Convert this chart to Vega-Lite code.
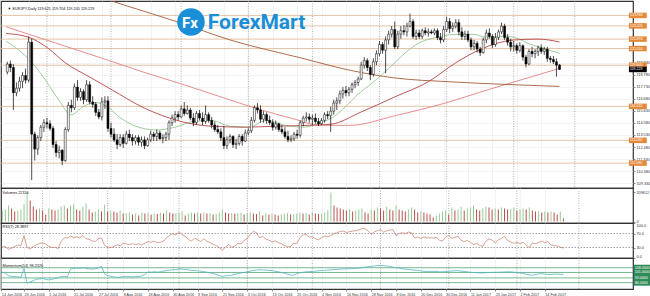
{
"$schema": "https://vega.github.io/schema/vega-lite/v6.json",
"padding": 0,
"background": "white",
"spacing": 0,
"bounds": "flush",
"config": {"view": {"stroke": "#333", "strokeWidth": 1.2, "fill": "white"}, "axis": {"labelFont": "Liberation Sans", "labelColor": "#333", "tickColor": "#444", "tickWidth": 0.6, "gridColor": "#ebebeb", "gridWidth": 0.6, "domain": false, "labelOverlap": false}, "text": {"font": "Liberation Sans"}},
"datasets": {
"mon": [{"i":6},{"i":27},{"i":50},{"i":72},{"i":93},{"i":115},{"i":137},{"i":159},{"i":179}],
"lv": [{"p":123.93},{"p":123.02},{"p":121.87},{"p":121.05},{"p":119.60},{"p":116.02},{"p":113.06},{"p":111.08}],
"mlv": [{"m":108},{"m":101},{"m":93},{"m":86}],
"ma": [
{"n":"MA20","i":-7.4,"p":121.70},{"n":"MA20","i":0.6,"p":119.97},{"n":"MA20","i":4.8,"p":118.57},{"n":"MA20","i":10,"p":116.52},{"n":"MA20","i":13.9,"p":115.28},{"n":"MA20","i":18,"p":116.02},{"n":"MA20","i":22,"p":116.35},{"n":"MA20","i":26,"p":115.94},{"n":"MA20","i":30,"p":115.03},{"n":"MA20","i":36,"p":114.21},{"n":"MA20","i":42,"p":113.96},{"n":"MA20","i":48,"p":114.21},{"n":"MA20","i":54,"p":114.70},{"n":"MA20","i":60,"p":114.79},{"n":"MA20","i":66,"p":114.29},{"n":"MA20","i":72,"p":114.21},{"n":"MA20","i":78,"p":114.79},{"n":"MA20","i":84,"p":114.37},{"n":"MA20","i":90,"p":114.21},{"n":"MA20","i":96,"p":114.62},{"n":"MA20","i":100,"p":115.11},{"n":"MA20","i":104,"p":116.02},{"n":"MA20","i":108,"p":117.09},{"n":"MA20","i":112,"p":117.92},{"n":"MA20","i":116,"p":118.82},{"n":"MA20","i":120,"p":119.81},{"n":"MA20","i":124,"p":120.80},{"n":"MA20","i":128,"p":121.54},{"n":"MA20","i":134,"p":122.03},{"n":"MA20","i":140,"p":122.28},{"n":"MA20","i":146,"p":122.28},{"n":"MA20","i":150,"p":122.03},{"n":"MA20","i":156,"p":122.12},{"n":"MA20","i":160,"p":121.95},{"n":"MA20","i":164,"p":121.46},{"n":"MA20","i":168,"p":121.13},{"n":"MA20","i":174,"p":120.63},
{"n":"MA50","i":-7.4,"p":122.36},{"n":"MA50","i":0,"p":122.03},{"n":"MA50","i":6.5,"p":121.05},{"n":"MA50","i":12,"p":119.81},{"n":"MA50","i":20,"p":118.57},{"n":"MA50","i":27,"p":117.50},{"n":"MA50","i":38,"p":115.86},{"n":"MA50","i":50,"p":114.70},{"n":"MA50","i":60,"p":114.29},{"n":"MA50","i":71,"p":114.21},{"n":"MA50","i":81,"p":114.29},{"n":"MA50","i":92,"p":114.37},{"n":"MA50","i":99,"p":114.46},{"n":"MA50","i":109,"p":115.53},{"n":"MA50","i":120,"p":116.84},{"n":"MA50","i":131,"p":118.16},{"n":"MA50","i":140,"p":119.81},{"n":"MA50","i":148,"p":120.96},{"n":"MA50","i":159,"p":121.79},{"n":"MA50","i":167,"p":121.87},{"n":"MA50","i":174,"p":121.62},
{"n":"MA100","i":-7.4,"p":122.94},{"n":"MA100","i":8.7,"p":121.54},{"n":"MA100","i":23.9,"p":120.22},{"n":"MA100","i":37.7,"p":118.99},{"n":"MA100","i":49.7,"p":118.00},{"n":"MA100","i":63.9,"p":116.76},{"n":"MA100","i":76.5,"p":115.69},{"n":"MA100","i":87.7,"p":114.87},{"n":"MA100","i":95.2,"p":114.37},{"n":"MA100","i":105.5,"p":114.37},{"n":"MA100","i":120,"p":115.20},{"n":"MA100","i":136.1,"p":116.27},{"n":"MA100","i":151,"p":117.50},{"n":"MA100","i":163.5,"p":118.49},{"n":"MA100","i":174,"p":119.32},
{"n":"MA200","i":20,"p":125.82},{"n":"MA200","i":32.3,"p":124.75},{"n":"MA200","i":49,"p":123.35},{"n":"MA200","i":66.1,"p":121.79},{"n":"MA200","i":89.4,"p":120.22},{"n":"MA200","i":105.5,"p":119.15},{"n":"MA200","i":120,"p":118.49},{"n":"MA200","i":137.7,"p":118.16},{"n":"MA200","i":157.1,"p":117.92},{"n":"MA200","i":174,"p":117.75}
],
"bars": [
{"i":-7,"o":119.0,"h":119.9,"l":118.8,"c":119.7,"v":78166,"vd":"u","r":31,"m":101.5},
{"i":-6,"o":119.7,"h":120.0,"l":119.0,"c":119.4,"v":85272,"vd":"u","r":33,"m":100},
{"i":-5,"o":119.4,"h":119.7,"l":115.7,"c":117.2,"v":113696,"vd":"u","r":25,"m":96},
{"i":-4,"o":117.2,"h":118.1,"l":116.9,"c":117.6,"v":92378,"vd":"d","r":28,"m":95.3},
{"i":-3,"o":117.6,"h":118.6,"l":117.3,"c":118.2,"v":71060,"vd":"d","r":33,"m":95},
{"i":-2,"o":118.2,"h":119.0,"l":117.6,"c":118.7,"v":78166,"vd":"u","r":37,"m":94.5},
{"i":-1,"o":118.7,"h":119.3,"l":118.0,"c":118.3,"v":85272,"vd":"u","r":35,"m":94},
{"i":0,"o":118.3,"h":122.1,"l":118.1,"c":121.6,"v":120802,"vd":"u","r":64,"m":107},
{"i":1,"o":121.6,"h":121.9,"l":109.6,"c":113.6,"v":209612,"vd":"u","r":30,"m":85.3},
{"i":2,"o":113.6,"h":113.8,"l":111.3,"c":112.3,"v":149226,"vd":"d","r":26,"m":87},
{"i":3,"o":112.3,"h":113.5,"l":111.8,"c":113.3,"v":106590,"vd":"d","r":33,"m":89},
{"i":4,"o":113.3,"h":114.4,"l":113.0,"c":114.2,"v":85272,"vd":"d","r":38,"m":91},
{"i":5,"o":114.2,"h":114.9,"l":113.8,"c":114.6,"v":92378,"vd":"u","r":42,"m":91.5},
{"i":6,"o":114.6,"h":115.0,"l":114.1,"c":114.5,"v":78166,"vd":"d","r":43,"m":92},
{"i":7,"o":114.5,"h":114.8,"l":113.9,"c":114.1,"v":49742,"vd":"d","r":40,"m":91},
{"i":8,"o":114.1,"h":114.3,"l":112.4,"c":112.7,"v":92378,"vd":"u","r":33,"m":90},
{"i":9,"o":112.7,"h":113.0,"l":111.6,"c":112.0,"v":85272,"vd":"d","r":30,"m":91},
{"i":10,"o":112.0,"h":112.6,"l":111.5,"c":112.2,"v":78166,"vd":"d","r":31,"m":92},
{"i":11,"o":112.2,"h":112.3,"l":110.9,"c":111.3,"v":85272,"vd":"u","r":27,"m":93},
{"i":12,"o":111.3,"h":114.2,"l":111.2,"c":114.0,"v":106590,"vd":"u","r":48,"m":95},
{"i":13,"o":114.0,"h":116.4,"l":113.8,"c":116.1,"v":113696,"vd":"u","r":58,"m":95.5},
{"i":14,"o":116.1,"h":116.6,"l":115.5,"c":115.9,"v":92378,"vd":"d","r":57,"m":94.5},
{"i":15,"o":115.9,"h":118.0,"l":115.7,"c":117.7,"v":113696,"vd":"u","r":63,"m":106},
{"i":16,"o":117.7,"h":118.3,"l":116.5,"c":116.8,"v":120802,"vd":"u","r":58,"m":107},
{"i":17,"o":116.8,"h":117.6,"l":116.5,"c":117.3,"v":85272,"vd":"d","r":61,"m":107.5},
{"i":18,"o":117.3,"h":117.5,"l":116.2,"c":116.6,"v":78166,"vd":"d","r":57,"m":107},
{"i":19,"o":116.6,"h":118.3,"l":116.4,"c":117.9,"v":106590,"vd":"u","r":64,"m":108},
{"i":20,"o":117.9,"h":118.2,"l":116.2,"c":116.4,"v":127908,"vd":"u","r":55,"m":107},
{"i":21,"o":116.4,"h":116.9,"l":115.9,"c":116.2,"v":85272,"vd":"d","r":53,"m":106.5},
{"i":22,"o":116.2,"h":116.4,"l":115.2,"c":115.5,"v":63954,"vd":"d","r":49,"m":106},
{"i":23,"o":115.5,"h":115.8,"l":114.9,"c":115.1,"v":71060,"vd":"u","r":47,"m":106.5},
{"i":24,"o":115.1,"h":116.8,"l":114.8,"c":116.4,"v":85272,"vd":"u","r":56,"m":108},
{"i":25,"o":116.4,"h":116.9,"l":115.8,"c":116.5,"v":71060,"vd":"d","r":57,"m":110},
{"i":26,"o":116.5,"h":116.9,"l":113.8,"c":114.1,"v":120802,"vd":"u","r":36,"m":99},
{"i":27,"o":114.1,"h":114.6,"l":113.3,"c":113.6,"v":71060,"vd":"d","r":31,"m":96.5},
{"i":28,"o":113.6,"h":114.1,"l":112.9,"c":113.1,"v":78166,"vd":"u","r":30,"m":95.3},
{"i":29,"o":113.1,"h":113.6,"l":112.3,"c":112.7,"v":71060,"vd":"d","r":33,"m":94.5},
{"i":30,"o":112.7,"h":113.6,"l":112.5,"c":113.3,"v":63954,"vd":"d","r":38,"m":94},
{"i":31,"o":113.3,"h":113.6,"l":112.4,"c":112.8,"v":78166,"vd":"u","r":35,"m":94},
{"i":32,"o":112.8,"h":113.9,"l":112.7,"c":113.6,"v":56848,"vd":"d","r":42,"m":95},
{"i":33,"o":113.6,"h":114.0,"l":113.0,"c":113.3,"v":60401,"vd":"u","r":40,"m":95.3},
{"i":34,"o":113.3,"h":113.6,"l":112.6,"c":113.0,"v":63954,"vd":"u","r":38,"m":95},
{"i":35,"o":113.0,"h":113.5,"l":112.7,"c":113.3,"v":49742,"vd":"d","r":41,"m":94.5},
{"i":36,"o":113.3,"h":113.5,"l":112.6,"c":112.9,"v":56848,"vd":"u","r":38,"m":95},
{"i":37,"o":112.9,"h":113.4,"l":112.5,"c":113.1,"v":42636,"vd":"d","r":41,"m":95},
{"i":38,"o":113.1,"h":113.4,"l":112.3,"c":112.6,"v":63954,"vd":"u","r":37,"m":96},
{"i":39,"o":112.6,"h":113.3,"l":112.5,"c":113.1,"v":56848,"vd":"d","r":42,"m":98},
{"i":40,"o":113.1,"h":113.9,"l":112.9,"c":113.6,"v":63954,"vd":"u","r":47,"m":102},
{"i":41,"o":113.6,"h":113.8,"l":113.0,"c":113.4,"v":49742,"vd":"d","r":45,"m":101.5},
{"i":42,"o":113.4,"h":114.0,"l":113.0,"c":113.7,"v":56848,"vd":"u","r":48,"m":102},
{"i":43,"o":113.7,"h":113.9,"l":113.1,"c":113.2,"v":53295,"vd":"d","r":44,"m":101.5},
{"i":44,"o":113.2,"h":113.6,"l":112.8,"c":113.3,"v":63954,"vd":"u","r":45,"m":102},
{"i":45,"o":113.3,"h":113.8,"l":113.0,"c":113.6,"v":56848,"vd":"d","r":48,"m":103},
{"i":46,"o":113.6,"h":114.8,"l":113.1,"c":114.6,"v":78166,"vd":"u","r":58,"m":104},
{"i":47,"o":114.6,"h":115.3,"l":114.3,"c":115.0,"v":63954,"vd":"d","r":65,"m":104.5},
{"i":48,"o":115.0,"h":115.6,"l":114.6,"c":115.3,"v":56848,"vd":"d","r":69,"m":105},
{"i":49,"o":115.3,"h":115.6,"l":114.8,"c":115.1,"v":60401,"vd":"u","r":66,"m":105},
{"i":50,"o":115.1,"h":116.1,"l":115.0,"c":115.8,"v":63954,"vd":"u","r":75,"m":106},
{"i":51,"o":115.8,"h":116.4,"l":115.2,"c":115.4,"v":71060,"vd":"u","r":66,"m":106},
{"i":52,"o":115.4,"h":116.1,"l":115.3,"c":115.7,"v":42636,"vd":"d","r":62,"m":105.5},
{"i":53,"o":115.7,"h":115.9,"l":114.8,"c":115.0,"v":56848,"vd":"u","r":53,"m":105},
{"i":54,"o":115.0,"h":115.4,"l":114.3,"c":114.6,"v":63954,"vd":"u","r":48,"m":104},
{"i":55,"o":114.6,"h":115.6,"l":114.4,"c":115.4,"v":56848,"vd":"d","r":57,"m":104},
{"i":56,"o":115.4,"h":115.7,"l":114.8,"c":115.0,"v":63954,"vd":"u","r":52,"m":103.5},
{"i":57,"o":115.0,"h":115.5,"l":114.4,"c":114.7,"v":56848,"vd":"d","r":47,"m":103},
{"i":58,"o":114.7,"h":116.1,"l":114.5,"c":115.3,"v":63954,"vd":"u","r":55,"m":102},
{"i":59,"o":115.3,"h":115.5,"l":114.6,"c":114.8,"v":56848,"vd":"d","r":48,"m":101.5},
{"i":60,"o":114.8,"h":115.1,"l":114.1,"c":114.4,"v":60401,"vd":"u","r":44,"m":100.5},
{"i":61,"o":114.4,"h":114.7,"l":113.8,"c":114.0,"v":49742,"vd":"d","r":40,"m":99.5},
{"i":62,"o":114.0,"h":114.4,"l":113.6,"c":113.8,"v":53295,"vd":"u","r":36,"m":98},
{"i":63,"o":113.8,"h":114.1,"l":113.0,"c":113.3,"v":63954,"vd":"u","r":30,"m":96.5},
{"i":64,"o":113.3,"h":114.3,"l":112.3,"c":112.6,"v":85272,"vd":"u","r":22,"m":95.3},
{"i":65,"o":112.6,"h":113.4,"l":112.3,"c":113.1,"v":63954,"vd":"d","r":32,"m":96},
{"i":66,"o":113.1,"h":113.6,"l":112.8,"c":113.4,"v":56848,"vd":"d","r":38,"m":96.5},
{"i":67,"o":113.4,"h":113.5,"l":112.4,"c":112.7,"v":60401,"vd":"u","r":31,"m":97},
{"i":68,"o":112.7,"h":113.2,"l":112.3,"c":112.8,"v":56848,"vd":"d","r":34,"m":98},
{"i":69,"o":112.8,"h":113.6,"l":112.6,"c":113.4,"v":60401,"vd":"u","r":42,"m":99.5},
{"i":70,"o":113.4,"h":113.6,"l":112.6,"c":113.0,"v":63954,"vd":"u","r":40,"m":100.3},
{"i":71,"o":113.0,"h":114.0,"l":112.9,"c":113.7,"v":49742,"vd":"d","r":50,"m":101},
{"i":72,"o":113.7,"h":114.1,"l":113.5,"c":113.9,"v":56848,"vd":"u","r":55,"m":102},
{"i":73,"o":113.9,"h":115.1,"l":113.7,"c":114.8,"v":63954,"vd":"u","r":68,"m":103},
{"i":74,"o":114.8,"h":116.1,"l":114.6,"c":115.9,"v":56848,"vd":"d","r":76,"m":104},
{"i":75,"o":115.9,"h":116.3,"l":115.4,"c":115.7,"v":53295,"vd":"d","r":72,"m":104.5},
{"i":76,"o":115.7,"h":116.1,"l":114.6,"c":114.9,"v":71060,"vd":"u","r":58,"m":105},
{"i":77,"o":114.9,"h":115.6,"l":114.6,"c":115.3,"v":42636,"vd":"d","r":62,"m":104.7},
{"i":78,"o":115.3,"h":115.5,"l":114.5,"c":114.8,"v":56848,"vd":"u","r":54,"m":104.5},
{"i":79,"o":114.8,"h":115.2,"l":114.4,"c":114.6,"v":49742,"vd":"d","r":51,"m":104},
{"i":80,"o":114.6,"h":114.9,"l":113.9,"c":114.2,"v":56848,"vd":"u","r":46,"m":103.7},
{"i":81,"o":114.2,"h":114.8,"l":114.0,"c":114.5,"v":49742,"vd":"d","r":49,"m":103},
{"i":82,"o":114.5,"h":114.6,"l":113.8,"c":114.0,"v":42636,"vd":"d","r":44,"m":102},
{"i":83,"o":114.0,"h":114.4,"l":113.6,"c":113.8,"v":49742,"vd":"u","r":41,"m":101},
{"i":84,"o":113.8,"h":114.2,"l":113.2,"c":113.4,"v":56848,"vd":"u","r":36,"m":100},
{"i":85,"o":113.4,"h":113.9,"l":112.9,"c":113.1,"v":60401,"vd":"u","r":32,"m":98.5},
{"i":86,"o":113.1,"h":113.5,"l":112.9,"c":113.2,"v":49742,"vd":"d","r":33,"m":97.5},
{"i":87,"o":113.2,"h":113.8,"l":113.0,"c":113.6,"v":53295,"vd":"u","r":42,"m":97},
{"i":88,"o":113.6,"h":114.0,"l":113.2,"c":113.5,"v":56848,"vd":"u","r":41,"m":99},
{"i":89,"o":113.5,"h":114.8,"l":113.3,"c":114.6,"v":63954,"vd":"u","r":58,"m":100.5},
{"i":90,"o":114.6,"h":115.2,"l":114.3,"c":115.0,"v":56848,"vd":"d","r":66,"m":101.3},
{"i":91,"o":115.0,"h":115.5,"l":114.7,"c":115.1,"v":60401,"vd":"u","r":67,"m":102},
{"i":92,"o":115.1,"h":115.4,"l":114.6,"c":114.9,"v":49742,"vd":"d","r":60,"m":102.2},
{"i":93,"o":114.9,"h":115.3,"l":114.4,"c":115.0,"v":63954,"vd":"u","r":61,"m":102.5},
{"i":94,"o":115.0,"h":115.4,"l":114.5,"c":114.7,"v":56848,"vd":"d","r":55,"m":103},
{"i":95,"o":114.7,"h":115.0,"l":114.3,"c":114.5,"v":53295,"vd":"d","r":52,"m":103.5},
{"i":96,"o":114.5,"h":115.0,"l":114.4,"c":114.8,"v":56848,"vd":"u","r":58,"m":104},
{"i":97,"o":114.8,"h":115.5,"l":114.6,"c":115.3,"v":63954,"vd":"u","r":63,"m":104},
{"i":98,"o":115.3,"h":115.6,"l":114.9,"c":115.2,"v":78166,"vd":"u","r":61,"m":104.5},
{"i":99,"o":115.2,"h":116.0,"l":113.8,"c":115.6,"v":206074,"vd":"u","r":64,"m":105},
{"i":100,"o":115.6,"h":116.6,"l":115.3,"c":116.3,"v":113696,"vd":"d","r":70,"m":105.2},
{"i":101,"o":116.3,"h":116.8,"l":115.7,"c":116.5,"v":99484,"vd":"d","r":72,"m":105.5},
{"i":102,"o":116.5,"h":117.4,"l":116.2,"c":117.1,"v":92378,"vd":"d","r":76,"m":106},
{"i":103,"o":117.1,"h":117.7,"l":116.7,"c":117.4,"v":85272,"vd":"d","r":77,"m":106.2},
{"i":104,"o":117.4,"h":117.8,"l":116.9,"c":117.2,"v":78166,"vd":"d","r":73,"m":106.3},
{"i":105,"o":117.2,"h":117.7,"l":116.9,"c":117.5,"v":85272,"vd":"u","r":75,"m":106.5},
{"i":106,"o":117.5,"h":118.1,"l":117.2,"c":117.9,"v":71060,"vd":"d","r":77,"m":106.8},
{"i":107,"o":117.9,"h":118.3,"l":117.6,"c":118.1,"v":78166,"vd":"u","r":78,"m":107},
{"i":108,"o":118.1,"h":118.6,"l":117.8,"c":118.4,"v":85272,"vd":"u","r":80,"m":107.5},
{"i":109,"o":118.4,"h":119.9,"l":118.3,"c":119.6,"v":92378,"vd":"u","r":84,"m":108},
{"i":110,"o":119.6,"h":120.3,"l":119.3,"c":120.0,"v":63954,"vd":"d","r":84,"m":109},
{"i":111,"o":120.0,"h":120.2,"l":119.1,"c":119.4,"v":56848,"vd":"d","r":77,"m":109.5},
{"i":112,"o":119.4,"h":119.6,"l":118.3,"c":118.8,"v":85272,"vd":"u","r":68,"m":110},
{"i":113,"o":118.8,"h":120.2,"l":118.6,"c":119.9,"v":78166,"vd":"d","r":75,"m":110.5},
{"i":114,"o":119.9,"h":120.9,"l":119.6,"c":120.6,"v":99484,"vd":"u","r":78,"m":111.3},
{"i":115,"o":120.6,"h":121.7,"l":120.4,"c":121.4,"v":92378,"vd":"d","r":81,"m":111.5},
{"i":116,"o":121.4,"h":121.6,"l":120.6,"c":120.9,"v":78166,"vd":"d","r":74,"m":111},
{"i":117,"o":120.9,"h":122.1,"l":118.9,"c":121.8,"v":106590,"vd":"u","r":78,"m":110.5},
{"i":118,"o":121.8,"h":122.6,"l":121.4,"c":122.3,"v":85272,"vd":"d","r":80,"m":110},
{"i":119,"o":122.3,"h":123.0,"l":122.0,"c":122.7,"v":78166,"vd":"d","r":81,"m":109},
{"i":120,"o":122.7,"h":123.4,"l":121.0,"c":121.2,"v":113696,"vd":"u","r":64,"m":108},
{"i":121,"o":121.2,"h":122.6,"l":121.0,"c":122.3,"v":85272,"vd":"d","r":70,"m":107.5},
{"i":122,"o":122.3,"h":123.0,"l":121.9,"c":122.6,"v":78166,"vd":"d","r":72,"m":106.5},
{"i":123,"o":122.6,"h":123.1,"l":122.2,"c":122.5,"v":71060,"vd":"d","r":70,"m":106},
{"i":124,"o":122.5,"h":123.3,"l":122.1,"c":123.0,"v":85272,"vd":"u","r":74,"m":105.5},
{"i":125,"o":123.0,"h":124.1,"l":122.9,"c":123.4,"v":99484,"vd":"u","r":72,"m":105},
{"i":126,"o":123.4,"h":123.6,"l":121.9,"c":122.1,"v":85272,"vd":"d","r":57,"m":104.5},
{"i":127,"o":122.1,"h":122.7,"l":121.8,"c":122.4,"v":63954,"vd":"d","r":60,"m":104},
{"i":128,"o":122.4,"h":122.7,"l":121.9,"c":122.1,"v":71060,"vd":"u","r":56,"m":103.5},
{"i":129,"o":122.1,"h":122.8,"l":121.9,"c":122.6,"v":63954,"vd":"d","r":60,"m":102.7},
{"i":130,"o":122.6,"h":122.9,"l":122.2,"c":122.4,"v":56848,"vd":"d","r":57,"m":102.7},
{"i":131,"o":122.4,"h":122.8,"l":122.1,"c":122.5,"v":49742,"vd":"d","r":58,"m":102.7},
{"i":132,"o":122.5,"h":122.7,"l":122.3,"c":122.4,"v":28424,"vd":"d","r":57,"m":102.5},
{"i":133,"o":122.4,"h":122.8,"l":122.2,"c":122.6,"v":42636,"vd":"u","r":59,"m":102.7},
{"i":134,"o":122.6,"h":122.8,"l":121.8,"c":122.0,"v":56848,"vd":"u","r":51,"m":102},
{"i":135,"o":122.0,"h":122.4,"l":121.5,"c":121.8,"v":71060,"vd":"u","r":48,"m":102},
{"i":136,"o":121.8,"h":123.0,"l":121.6,"c":122.7,"v":78166,"vd":"u","r":60,"m":102.5},
{"i":137,"o":122.7,"h":123.8,"l":122.5,"c":123.4,"v":49742,"vd":"d","r":65,"m":103},
{"i":138,"o":123.4,"h":123.7,"l":122.4,"c":122.8,"v":99484,"vd":"u","r":56,"m":103.2},
{"i":139,"o":122.8,"h":123.3,"l":122.5,"c":123.0,"v":78166,"vd":"d","r":59,"m":103.5},
{"i":140,"o":123.0,"h":123.6,"l":122.8,"c":123.3,"v":85272,"vd":"u","r":62,"m":103.7},
{"i":141,"o":123.3,"h":123.6,"l":122.2,"c":122.5,"v":106590,"vd":"u","r":50,"m":103},
{"i":142,"o":122.5,"h":122.9,"l":121.8,"c":122.1,"v":78166,"vd":"d","r":47,"m":102.5},
{"i":143,"o":122.1,"h":122.6,"l":121.8,"c":122.3,"v":92378,"vd":"u","r":50,"m":102},
{"i":144,"o":122.3,"h":122.6,"l":121.6,"c":121.8,"v":99484,"vd":"u","r":45,"m":101.3},
{"i":145,"o":121.8,"h":122.0,"l":120.9,"c":121.2,"v":113696,"vd":"u","r":38,"m":101},
{"i":146,"o":121.2,"h":121.8,"l":120.9,"c":121.5,"v":85272,"vd":"d","r":42,"m":100.7},
{"i":147,"o":121.5,"h":121.7,"l":120.7,"c":121.0,"v":78166,"vd":"d","r":36,"m":100.5},
{"i":148,"o":121.0,"h":121.2,"l":120.4,"c":120.7,"v":92378,"vd":"u","r":33,"m":100.3},
{"i":149,"o":120.7,"h":122.0,"l":120.6,"c":121.8,"v":106590,"vd":"u","r":48,"m":100.7},
{"i":150,"o":121.8,"h":122.7,"l":121.5,"c":122.4,"v":99484,"vd":"d","r":55,"m":101},
{"i":151,"o":122.4,"h":122.8,"l":121.9,"c":122.1,"v":85272,"vd":"d","r":51,"m":101.2},
{"i":152,"o":122.1,"h":122.3,"l":121.1,"c":121.4,"v":92378,"vd":"u","r":44,"m":101.3},
{"i":153,"o":121.4,"h":122.4,"l":121.2,"c":122.0,"v":85272,"vd":"d","r":52,"m":101.3},
{"i":154,"o":122.0,"h":122.7,"l":121.8,"c":122.5,"v":99484,"vd":"u","r":56,"m":101.5},
{"i":155,"o":122.5,"h":123.3,"l":122.3,"c":123.0,"v":92378,"vd":"d","r":62,"m":101.8},
{"i":156,"o":123.0,"h":123.2,"l":121.8,"c":122.0,"v":85272,"vd":"d","r":50,"m":102},
{"i":157,"o":122.0,"h":122.3,"l":121.3,"c":121.6,"v":88825,"vd":"u","r":46,"m":102},
{"i":158,"o":121.6,"h":121.9,"l":120.8,"c":121.2,"v":99484,"vd":"u","r":42,"m":101.5},
{"i":159,"o":121.2,"h":121.7,"l":120.8,"c":121.3,"v":78166,"vd":"d","r":45,"m":101},
{"i":160,"o":121.3,"h":121.5,"l":120.6,"c":120.9,"v":85272,"vd":"u","r":41,"m":100.3},
{"i":161,"o":120.9,"h":121.6,"l":120.7,"c":121.3,"v":92378,"vd":"u","r":45,"m":99.5},
{"i":162,"o":121.3,"h":121.4,"l":120.0,"c":120.3,"v":85272,"vd":"d","r":36,"m":98.5},
{"i":163,"o":120.3,"h":120.5,"l":119.4,"c":119.7,"v":99484,"vd":"u","r":30,"m":97.5},
{"i":164,"o":119.7,"h":121.0,"l":119.6,"c":120.8,"v":78166,"vd":"d","r":43,"m":97},
{"i":165,"o":120.8,"h":121.2,"l":120.3,"c":120.6,"v":71060,"vd":"d","r":41,"m":98},
{"i":166,"o":120.6,"h":121.0,"l":120.2,"c":120.8,"v":74613,"vd":"u","r":44,"m":99},
{"i":167,"o":120.8,"h":121.3,"l":120.4,"c":121.1,"v":63954,"vd":"d","r":48,"m":99.3},
{"i":168,"o":121.1,"h":121.4,"l":120.6,"c":120.8,"v":71060,"vd":"u","r":44,"m":98.5},
{"i":169,"o":120.8,"h":121.2,"l":120.5,"c":121.0,"v":63954,"vd":"d","r":47,"m":98},
{"i":170,"o":121.0,"h":121.2,"l":119.9,"c":120.2,"v":71060,"vd":"u","r":37,"m":98},
{"i":171,"o":120.2,"h":120.4,"l":119.8,"c":120.1,"v":63954,"vd":"d","r":36,"m":98.5},
{"i":172,"o":120.1,"h":120.4,"l":119.7,"c":119.9,"v":49742,"vd":"d","r":34,"m":98.7},
{"i":173,"o":119.9,"h":120.2,"l":118.6,"c":119.6,"v":71060,"vd":"u","r":31,"m":98.2},
{"i":174,"o":119.621,"h":119.704,"l":119.205,"c":119.229,"v":22116,"vd":"d","r":28.39,"m":98.23}
]
},
"vconcat": [
{
"width": 632, "height": 187,
"layer": [
{"data": {"name": "mon"}, "mark": {"type": "rule", "color": "#7a7a7a", "strokeWidth": 0.6, "strokeDash": [1, 1.5]},
 "encoding": {"x": {"field": "i", "type": "quantitative", "scale": {"domain": [-7.42, 196.45], "nice": false, "zero": false}, "axis": {"values": [0,8,16,24,32,40,48,56,64,72,80,88,96,104,112,120,128,136,144,152,160,168], "tickCount": 1000, "labels": false, "ticks": false, "grid": true, "title": null}}}},
{"data": {"name": "lv"}, "mark": {"type": "rule", "color": "#dcb48f", "strokeWidth": 0.8},
 "encoding": {"y": {"field": "p", "type": "quantitative", "scale": {"domain": [109.35, 124.75], "nice": false, "zero": false}, "axis": {"orient": "right", "values": [109.33,110.38,111.43,112.48,113.53,114.58,115.63,116.68,117.73,118.78,119.83], "tickCount": 1000, "format": ".3f", "labelFontSize": 3.8, "labelPadding": 1, "tickSize": 2, "grid": true, "title": null, "labelOverlap": false}}}},
{"data": {"name": "ma"}, "mark": {"type": "line", "strokeWidth": 0.85, "clip": true, "interpolate": "monotone"},
 "encoding": {"x": {"field": "i", "type": "quantitative"},
  "y": {"field": "p", "type": "quantitative"},
  "color": {"field": "n", "type": "nominal", "scale": {"domain": ["MA20", "MA50", "MA100", "MA200"], "range": ["#8cc48b", "#b03a3a", "#e07a7a", "#a0522d"]}, "legend": null}}},
{"data": {"name": "bars"}, "mark": {"type": "rule", "color": "#000", "strokeWidth": 0.7},
 "encoding": {"x": {"field": "i", "type": "quantitative"},
  "y": {"field": "l", "type": "quantitative"}, "y2": {"field": "h"}}},
{"data": {"name": "bars"}, "mark": {"type": "bar", "size": 2, "stroke": "#000", "strokeWidth": 0.5},
 "encoding": {"x": {"field": "i", "type": "quantitative"},
  "y": {"field": "o", "type": "quantitative"}, "y2": {"field": "c"},
  "fill": {"condition": {"test": "datum.c >= datum.o", "value": "#ffffff"}, "value": "#000000"}}},
{"data": {"name": "lv"}, "mark": {"type": "bar", "orient": "horizontal", "size": 5.5, "color": "#e4893a"},
 "encoding": {"x": {"datum": 196.75, "type": "quantitative"}, "x2": {"datum": 202.6},
  "y": {"field": "p", "type": "quantitative"}}},
{"data": {"name": "lv"}, "mark": {"type": "text", "align": "left", "baseline": "middle", "color": "#ffffff", "fontSize": 3.5},
 "encoding": {"x": {"datum": 197.1, "type": "quantitative"},
  "y": {"field": "p", "type": "quantitative"},
  "text": {"field": "p", "type": "quantitative", "format": ".3f"}}},
{"data": {"name": "bars"}, "transform": [{"filter": "datum.i == 174"}], "mark": {"type": "bar", "orient": "horizontal", "size": 5.5, "color": "#000"},
 "encoding": {"x": {"datum": 196.75, "type": "quantitative"}, "x2": {"datum": 202.6},
  "y": {"field": "c", "type": "quantitative"}}},
{"data": {"name": "bars"}, "transform": [{"filter": "datum.i == 174"}], "mark": {"type": "text", "align": "left", "baseline": "middle", "color": "#ffffff", "fontSize": 3.5},
 "encoding": {"x": {"datum": 197.1, "type": "quantitative"},
  "y": {"field": "c", "type": "quantitative"},
  "text": {"field": "c", "type": "quantitative", "format": ".3f"}}},
{"data": {"values": [{"t": "▼ EURJPY,Daily  119.621 119.704 119.205 119.229"}]}, "mark": {"type": "text", "align": "left", "baseline": "middle", "fontSize": 3.8, "color": "#111"},
 "encoding": {"x": {"datum": -6.9, "type": "quantitative"},
  "y": {"datum": 124.5, "type": "quantitative"}, "text": {"field": "t"}}},
{"data": {"values": [{"t": "Fx"}]}, "mark": {"type": "point", "shape": "circle", "filled": true, "size": 760, "color": "#1b8ed8", "opacity": 1},
 "encoding": {"x": {"datum": 53.2, "type": "quantitative"},
  "y": {"datum": 123.35, "type": "quantitative"}}},
{"data": {"values": [{"t": "Fx"}]}, "mark": {"type": "text", "align": "center", "baseline": "middle", "fontSize": 15, "font": "Roboto", "fontWeight": "bold", "color": "#ffffff"},
 "encoding": {"x": {"datum": 52.9, "type": "quantitative"},
  "y": {"datum": 123.3, "type": "quantitative"}, "text": {"field": "t"}}},
{"data": {"values": [{"t": "ForexMart"}]}, "mark": {"type": "text", "align": "left", "baseline": "middle", "fontSize": 21, "font": "Roboto", "fontWeight": "bold", "color": "#1b8ed8"},
 "encoding": {"x": {"datum": 58.7, "type": "quantitative"},
  "y": {"datum": 123.3, "type": "quantitative"}, "text": {"field": "t"}}}
]
},
{
"width": 632, "height": 35,
"layer": [
{"data": {"name": "mon"}, "mark": {"type": "rule", "color": "#7a7a7a", "strokeWidth": 0.6, "strokeDash": [1, 1.5]},
 "encoding": {"x": {"field": "i", "type": "quantitative", "scale": {"domain": [-7.42, 196.45], "nice": false, "zero": false}, "axis": {"values": [0,8,16,24,32,40,48,56,64,72,80,88,96,104,112,120,128,136,144,152,160,168], "tickCount": 1000, "labels": false, "ticks": false, "grid": true, "title": null}}}},
{"data": {"name": "bars"}, "mark": {"type": "rule", "strokeWidth": 0.9},
 "encoding": {"x": {"field": "i", "type": "quantitative"},
  "y": {"field": "v", "type": "quantitative", "scale": {"domain": [-10659, 238051], "nice": false, "zero": false}, "axis": {"orient": "right", "values": [0, 209612], "tickCount": 1000, "format": "d", "labelFontSize": 3.8, "labelPadding": 1, "tickSize": 2, "grid": false, "title": null, "labelOverlap": false}},
  "y2": {"datum": 0},
  "color": {"field": "vd", "type": "nominal", "scale": {"domain": ["u", "d"], "range": ["#4aa866", "#cc6a5c"]}, "legend": null}}},
{"data": {"values": [{"t": "Volumes 22116"}]}, "mark": {"type": "text", "align": "left", "baseline": "middle", "fontSize": 3.8, "color": "#111"},
 "encoding": {"x": {"datum": -6.9, "type": "quantitative"},
  "y": {"datum": 199000, "type": "quantitative"}, "text": {"field": "t"}}}
]
},
{
"width": 632, "height": 35,
"layer": [
{"data": {"name": "mon"}, "mark": {"type": "rule", "color": "#7a7a7a", "strokeWidth": 0.6, "strokeDash": [1, 1.5]},
 "encoding": {"x": {"field": "i", "type": "quantitative", "scale": {"domain": [-7.42, 196.45], "nice": false, "zero": false}, "axis": {"values": [0,8,16,24,32,40,48,56,64,72,80,88,96,104,112,120,128,136,144,152,160,168], "tickCount": 1000, "labels": false, "ticks": false, "grid": true, "title": null}}}},
{"data": {"values": [{"r": 70}, {"r": 30}]}, "mark": {"type": "rule", "color": "#666", "strokeWidth": 0.6, "strokeDash": [1.5, 1.5]},
 "encoding": {"y": {"field": "r", "type": "quantitative", "scale": {"domain": [0, 100], "nice": false, "zero": false}, "axis": {"orient": "right", "values": [0, 30, 70, 100], "tickCount": 1000, "labelFontSize": 3.8, "labelPadding": 1, "tickSize": 2, "grid": false, "title": null, "labelFlush": true, "labelOverlap": false}}}},
{"data": {"name": "bars"}, "mark": {"type": "line", "color": "#c9776a", "strokeWidth": 0.7},
 "encoding": {"x": {"field": "i", "type": "quantitative"},
  "y": {"field": "r", "type": "quantitative"}}},
{"data": {"values": [{"t": "RSI(7) 28.3897"}]}, "mark": {"type": "text", "align": "left", "baseline": "middle", "fontSize": 3.8, "color": "#111"},
 "encoding": {"x": {"datum": -6.9, "type": "quantitative"},
  "y": {"datum": 88, "type": "quantitative"}, "text": {"field": "t"}}}
]
},
{
"width": 632, "height": 31,
"layer": [
{"data": {"name": "mon"}, "mark": {"type": "rule", "color": "#7a7a7a", "strokeWidth": 0.6, "strokeDash": [1, 1.5]},
 "encoding": {"x": {"field": "i", "type": "quantitative", "scale": {"domain": [-7.42, 196.45], "nice": false, "zero": false},
  "axis": {"values": [-7.3,0,8,16,24,32,40,48,56,64,72,80,88,96,104,112,120,128,136,144,152,160,168], "tickCount": 1000,
   "labelExpr": "datum.value < 0 ? '14 Jun 2016' : ['23 Jun 2016','5 Jul 2016','15 Jul 2016','27 Jul 2016','8 Aug 2016','18 Aug 2016','30 Aug 2016','9 Sep 2016','21 Sep 2016','3 Oct 2016','13 Oct 2016','25 Oct 2016','4 Nov 2016','16 Nov 2016','28 Nov 2016','8 Dec 2016','20 Dec 2016','30 Dec 2016','11 Jan 2017','23 Jan 2017','2 Feb 2017','14 Feb 2017'][round(datum.value / 8)]",
   "labelAlign": "left", "labelFontSize": 3.7, "labelPadding": 1, "tickSize": 2, "grid": true, "labelOverlap": false, "labelFlush": false, "title": null}}}},
{"data": {"name": "mlv"}, "mark": {"type": "rule", "color": "#3f9a63", "strokeWidth": 0.7},
 "encoding": {"y": {"field": "m", "type": "quantitative", "scale": {"domain": [84, 115], "nice": false, "zero": false}, "axis": null}}},
{"data": {"name": "bars"}, "mark": {"type": "line", "color": "#52b5c0", "strokeWidth": 0.8},
 "encoding": {"x": {"field": "i", "type": "quantitative"},
  "y": {"field": "m", "type": "quantitative"}}},
{"data": {"name": "mlv"}, "mark": {"type": "bar", "orient": "horizontal", "size": 6, "color": "#2e8b57"},
 "encoding": {"x": {"datum": 196.75, "type": "quantitative"}, "x2": {"datum": 202.6},
  "y": {"field": "m", "type": "quantitative"}}},
{"data": {"name": "mlv"}, "mark": {"type": "text", "align": "left", "baseline": "middle", "color": "#ffffff", "fontSize": 3.6},
 "encoding": {"x": {"datum": 197.0, "type": "quantitative"},
  "y": {"field": "m", "type": "quantitative"},
  "text": {"field": "m", "type": "quantitative", "format": ".4f"}}},
{"data": {"values": [{"t": "Momentum(14) 98.2326"}]}, "mark": {"type": "text", "align": "left", "baseline": "middle", "fontSize": 3.8, "color": "#111"},
 "encoding": {"x": {"datum": -6.9, "type": "quantitative"},
  "y": {"datum": 111, "type": "quantitative"}, "text": {"field": "t"}}}
]
}
]
}
